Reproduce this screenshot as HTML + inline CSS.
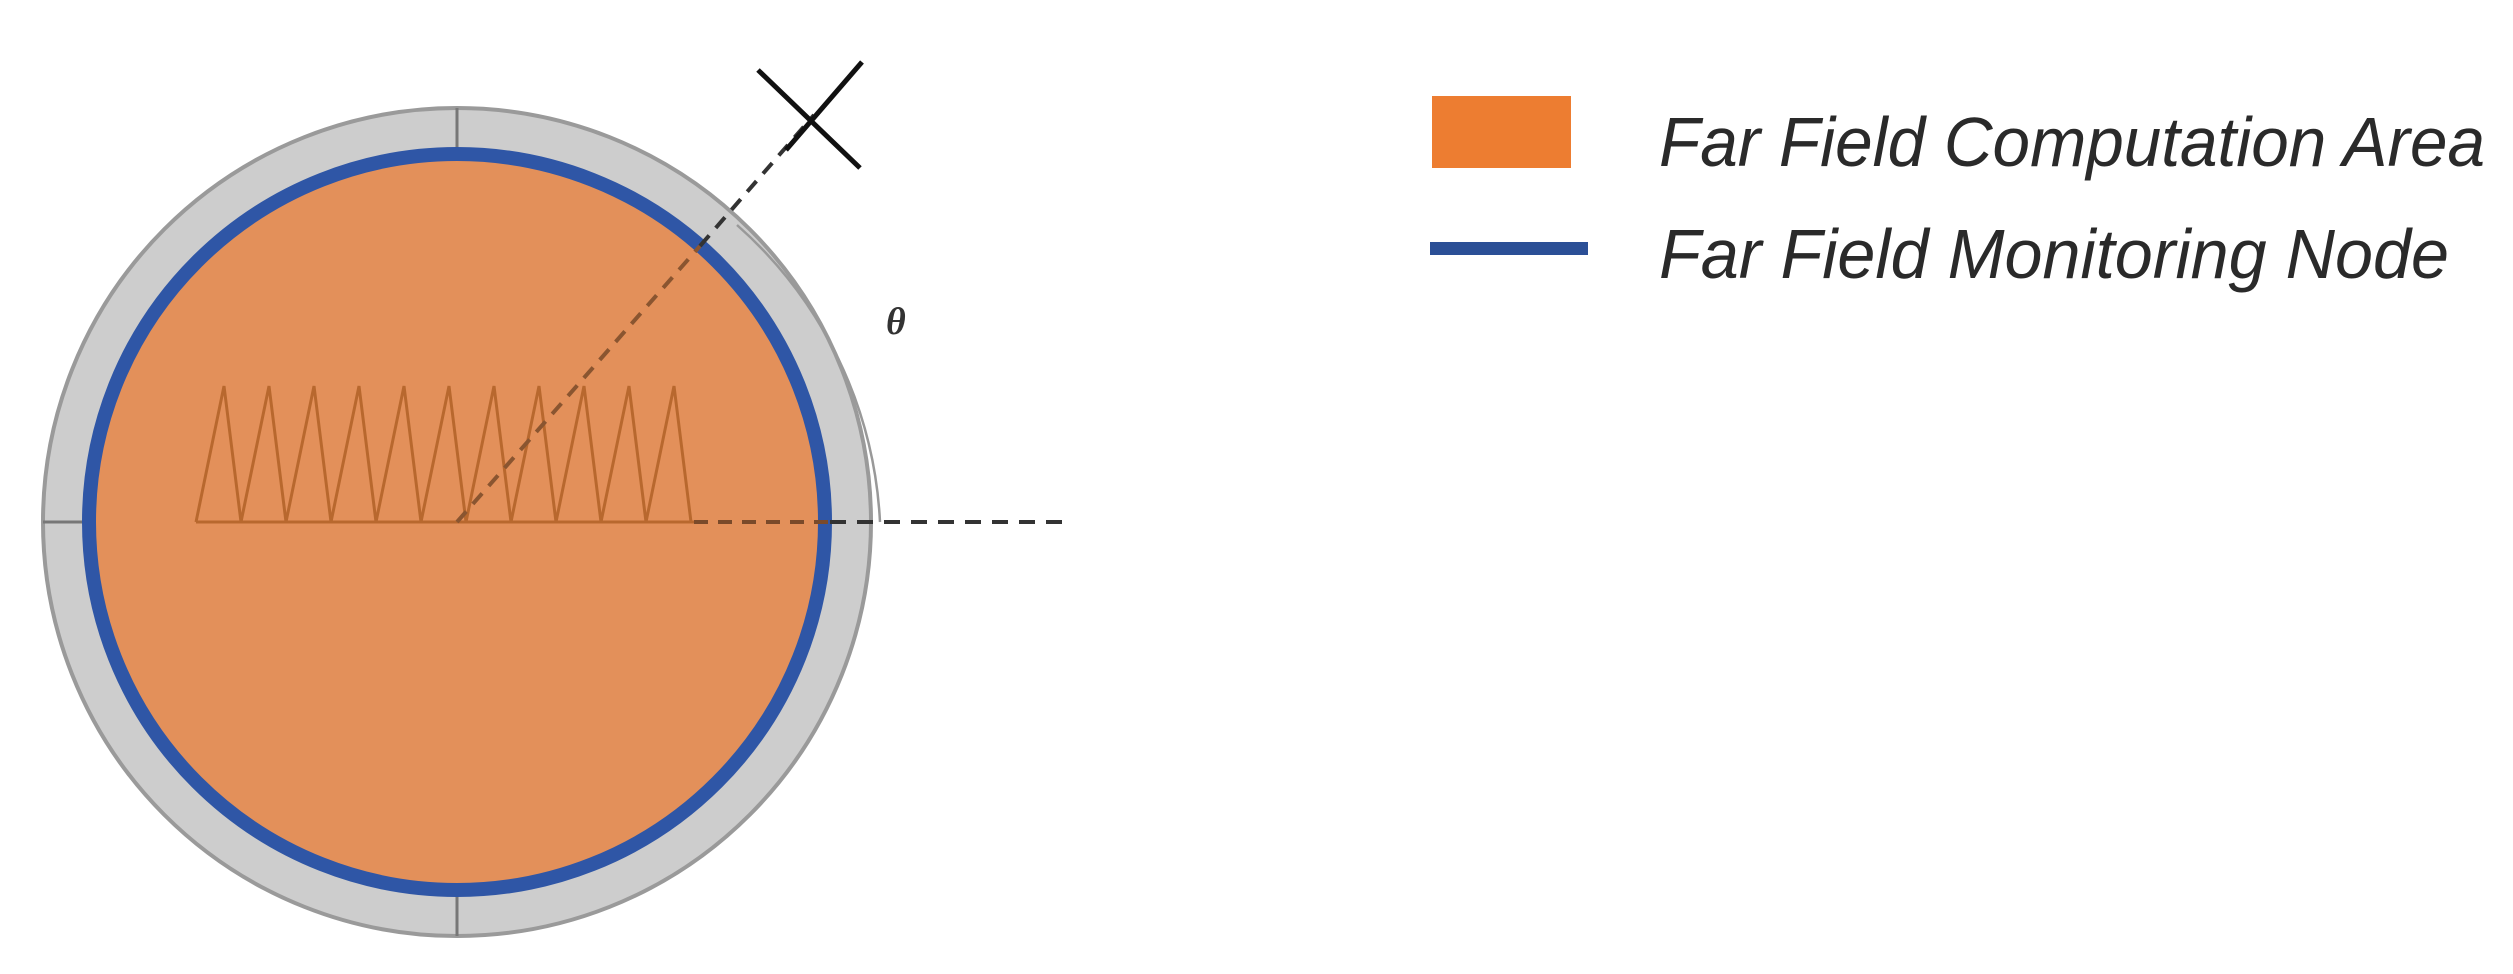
<!DOCTYPE html>
<html><head><meta charset="utf-8"><style>html,body{margin:0;padding:0;background:#fff}svg{display:block}</style></head>
<body>
<svg width="2513" height="974" viewBox="0 0 2513 974" xmlns="http://www.w3.org/2000/svg">
<circle cx="457" cy="522" r="414" fill="#cdcdcd" stroke="#9a9a9a" stroke-width="4"/>
<line x1="457" y1="108" x2="457" y2="155" stroke="#777" stroke-width="3"/>
<line x1="457" y1="890" x2="457" y2="936" stroke="#777" stroke-width="3"/>
<line x1="43" y1="522" x2="90" y2="522" stroke="#777" stroke-width="3"/>
<circle cx="457" cy="522" r="368" fill="#e3905a" stroke="#2f56a6" stroke-width="14"/>
<polyline fill="none" stroke="#b8682e" stroke-width="3" points="196,522 224,386 241,522 269,386 286,522 314,386 331,522 359,386 376,522 404,386 421,522 449,386 466,522 494,386 511,522 539,386 556,522 584,386 601,522 629,386 646,522 674,386 691,522 694,522"/>
<line x1="196" y1="522" x2="694" y2="522" stroke="#b8682e" stroke-width="3"/>
<line x1="694" y1="522" x2="830" y2="522" stroke="#7a4a2a" stroke-width="4" stroke-dasharray="14,10"/>
<line x1="830" y1="522" x2="1068" y2="522" stroke="#333" stroke-width="4" stroke-dasharray="16,11"/>
<line x1="457" y1="522" x2="700" y2="246" stroke="#8a5530" stroke-width="4" stroke-dasharray="14,10"/>
<line x1="700" y1="246" x2="814" y2="115" stroke="#333" stroke-width="4" stroke-dasharray="14,10"/>
<line x1="786" y1="150" x2="862" y2="62" stroke="#111" stroke-width="5"/>
<line x1="758" y1="70" x2="860" y2="168" stroke="#111" stroke-width="5"/>
<path d="M737,225 A425,425 0 0 1 880,522" fill="none" stroke="#999" stroke-width="2.5"/>
<text x="886" y="334" font-family="Liberation Serif, serif" font-style="italic" font-weight="bold" font-size="38" fill="#333">θ</text>
<rect x="1432" y="96" width="139" height="72" fill="#ed7d31"/>
<rect x="1430" y="242" width="158" height="13" fill="#2b4f96"/>
<text x="1659" y="166" font-family="Liberation Sans, sans-serif" font-style="italic" font-size="70" fill="#2a2a2a" textLength="826" lengthAdjust="spacingAndGlyphs">Far Field Computation Area</text>
<text x="1659" y="278" font-family="Liberation Sans, sans-serif" font-style="italic" font-size="70" fill="#2a2a2a" textLength="790" lengthAdjust="spacingAndGlyphs">Far Field Monitoring Node</text>
</svg>
</body></html>
